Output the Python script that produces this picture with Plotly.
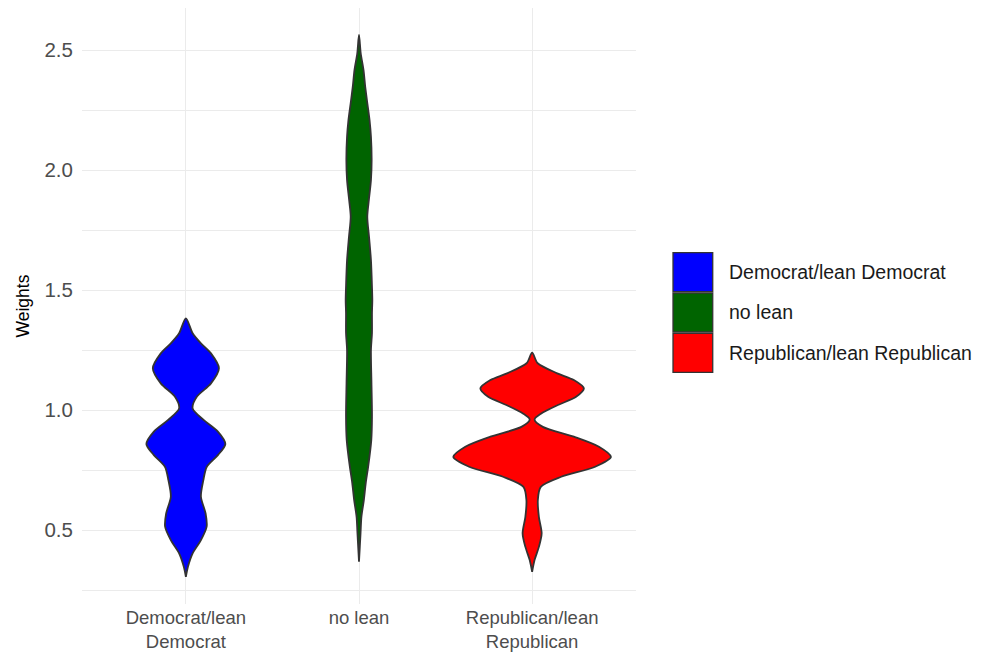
import plotly.graph_objects as go

# ---- data ----
categories = ["Democrat/lean Democrat", "no lean", "Republican/lean Republican"]
tick_labels = ["Democrat/lean<br>Democrat", "no lean", "Republican/lean<br>Republican"]
colors = ["#0000FF", "#006400", "#FF0000"]

# violin outlines: weight level (y) and half-width of the density (x units)
dem_y = [1.382, 1.320, 1.278, 1.236, 1.174, 1.111, 1.056, 1.007, 0.958, 0.910, 0.858,
         0.8125, 0.764, 0.708, 0.639, 0.569, 0.514, 0.458, 0.403, 0.347, 0.305]
dem_w = [0.0, 0.039, 0.087, 0.145, 0.191, 0.145, 0.064, 0.039, 0.104, 0.185, 0.228,
         0.185, 0.121, 0.101, 0.087, 0.114, 0.120, 0.087, 0.039, 0.012, 0.0]

nol_y = [2.5625, 2.486, 2.417, 2.347, 2.279, 2.208, 2.139, 2.042, 1.958, 1.875, 1.805,
         1.722, 1.625, 1.514, 1.458, 1.404, 1.321, 1.25, 1.1125, 0.972, 0.875, 0.764,
         0.696, 0.625, 0.555, 0.4875, 0.368]
nol_w = [0.0, 0.010, 0.026, 0.036, 0.048, 0.061, 0.069, 0.073, 0.069, 0.057, 0.048,
         0.058, 0.069, 0.075, 0.077, 0.075, 0.075, 0.069, 0.072, 0.075, 0.071, 0.053,
         0.039, 0.028, 0.014, 0.009, 0.0]

rep_y = [1.239, 1.195, 1.153, 1.125, 1.090, 1.055, 1.021, 0.986, 0.961, 0.930, 0.889,
         0.847, 0.805, 0.764, 0.722, 0.680, 0.625, 0.555, 0.486, 0.430, 0.375, 0.326]
rep_w = [0.0, 0.032, 0.145, 0.241, 0.299, 0.254, 0.149, 0.053, 0.014, 0.062, 0.241,
         0.386, 0.455, 0.364, 0.168, 0.050, 0.033, 0.039, 0.055, 0.039, 0.014, 0.0]

y_ticks = [0.5, 1.0, 1.5, 2.0, 2.5]
y_title = "Weights"

profiles = [(dem_y, dem_w), (nol_y, nol_w), (rep_y, rep_w)]

fig = go.Figure()
for i, (name, col, (ys, ws)) in enumerate(zip(categories, colors, profiles)):
    xs = [i + w for w in ws] + [i - w for w in reversed(ws)]
    yy = list(ys) + list(reversed(ys))
    fig.add_trace(go.Scatter(
        x=xs, y=yy, mode="lines", fill="toself", fillcolor=col,
        line=dict(color="#333333", width=1.8, shape="spline", smoothing=0.8),
        name=name, showlegend=False, hoverinfo="skip", cliponaxis=False))

grid = "#EBEBEB"
fs = 20.5
xfs = 18.5
lfs = 19.5
# the page body adds an 8px offset, so the figure is 8px smaller than the window
fig.update_layout(
    width=976, height=646,
    margin=dict(l=74, r=348, t=0, b=50),
    paper_bgcolor="white", plot_bgcolor="white",
    font=dict(family="Liberation Sans, Arial, sans-serif", size=fs, color="#4D4D4D"),
    xaxis=dict(range=[-0.6, 2.6], tickvals=[0, 1, 2], ticktext=tick_labels,
               automargin=False,
               showgrid=True, gridcolor=grid, gridwidth=1.4, zeroline=False,
               showline=False, ticks="", tickfont=dict(size=xfs, color="#4D4D4D")),
    yaxis=dict(range=[0.192, 2.675], tickvals=y_ticks,
               ticktext=[f"{v:.1f}" for v in y_ticks], automargin=False,
               showgrid=True, gridcolor=grid, gridwidth=1.4, zeroline=False,
               showline=False, ticks="outside", ticklen=4, tickcolor="rgba(0,0,0,0)",
               minor=dict(tick0=0.25, dtick=0.5, showgrid=True, gridcolor=grid, gridwidth=0.8),
               title=dict(text=y_title, font=dict(size=17.5, color="black"), standoff=10),
               tickfont=dict(size=fs, color="#4D4D4D")),
)

# legend drawn as keys + labels to the right of the plot area
key_x0, key_x1, text_x = 1.0668, 1.1385, 1.1647
key_top, key_h, key_gap = 0.5894, 0.0654, 0.0022
for i, (name, col) in enumerate(zip(categories, colors)):
    top = key_top - i * (key_h + key_gap)
    fig.add_shape(type="rect", xref="paper", yref="paper",
                  x0=key_x0, x1=key_x1, y0=top - key_h, y1=top,
                  fillcolor=col, line=dict(color="#333333", width=1.3))
    fig.add_annotation(xref="paper", yref="paper", x=text_x, y=top - key_h / 2,
                       text=name, showarrow=False, xanchor="left", yanchor="middle",
                       font=dict(size=lfs, color="#1A1A1A"))

fig.write_html("out.html")
